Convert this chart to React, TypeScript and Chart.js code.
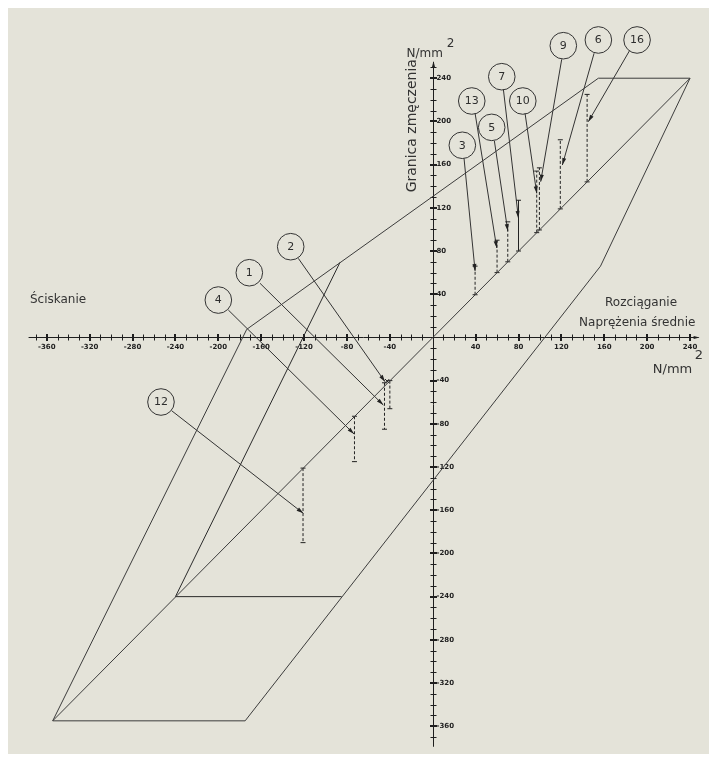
import React, { useEffect, useRef } from "react";
import { Chart, registerables } from "chart.js";

Chart.register(...registerables);

// ---- Diagram outline (σm, σ) in N/mm² ----
const outerX = [-354.5, -173.5, 154.5, 240, 156.5, -175, -354.5];
const outerY = [-355, 7.5, 240, 240, 66, -355, -355];
const diagonalX = [-354.5, 240];
const diagonalY = [-355, 240];
const innerX = [-86.5, -240, -85];
const innerY = [69.5, -240, -240];

// ---- Numbered callouts ----
const labels = ["2", "1", "4", "12", "3", "13", "5", "7", "10", "9", "6", "16"];
const bubbleX = [-132.5, -171.1, -200, -253.5, 27.6, 36.4, 55.0, 64.4, 84.0, 121.8, 154.5, 190.6];
const bubbleY = [84.0, 59.9, 34.6, -59.8, 177.9, 218.9, 194.5, 241.4, 218.9, 270.1, 275.4, 275.4];
const leaderStartX = [-125.4, -161.1, -190.7, -243.5, 29.2, 39.5, 57.5, 65.9, 86.1, 120.3, 150.5, 183.4];
const leaderStartY = [73.2, 50.1, 25.4, -67.9, 165.8, 207.5, 181.9, 229.7, 207.5, 257.5, 263.1, 265.2];
const tipX = [-44.5, -46.1, -73.4, -120.7, 39.5, 59.7, 70.0, 79.9, 97.0, 100.7, 120.9, 145.1];
const tipY = [-41.0, -62.6, -89.4, -162.9, 61.5, 82.8, 98.5, 110.6, 133.4, 144.2, 159.6, 199.7];

// ---- Stress ranges (vertical bars) ----
const barX = [-40, -45, -73, -121, 39.5, 60, 70, 80, 97, 99.5, 119, 144];
const barFrom = [-40, -42, -73, -121, 39.5, 60, 70, 80, 97, 99.5, 119, 144];
const barTo = [-66, -85, -115, -190, 66, 90, 107, 127, 154, 157, 183, 225];
const barSolid = [false, false, false, false, false, false, false, true, false, false, false, false];
const crossX = [-42.5];
const crossY = [-40.5];

// ---- Axes ----
const xTickLabels = [-360, -320, -280, -240, -200, -160, -120, -80, -40, 40, 80, 120, 160, 200, 240];
const yTickLabels = [240, 200, 160, 120, 80, 40, -40, -80, -120, -160, -200, -240, -280, -320, -360];
const xTickFirst = -370;
const xTickLast = 240;
const yTickFirst = -370;
const yTickLast = 250;
const tickStep = 10;
const xAxisFrom = -377;
const xAxisTo = 248;
const yAxisFrom = -379;
const yAxisTo = 255;

const BG = "#e4e3d9";
const LINE = "#3c3c3c";
const INK = "#2e2e2e";
const FONT = "'DejaVu Sans', sans-serif";

export default function App() {
  const ref = useRef<HTMLCanvasElement>(null);

  useEffect(() => {
    const canvas = ref.current;
    if (!canvas) return;

    const seg = (xs: number[], ys: number[], extra: any = {}) => ({
      type: "line" as const,
      data: xs.map((x, i) => ({ x, y: ys[i] })),
      borderColor: LINE,
      borderWidth: 1,
      pointRadius: 0,
      fill: false,
      tension: 0,
      showLine: true,
      ...extra,
    });

    const datasets: any[] = [];
    datasets.push(seg(outerX, outerY));
    datasets.push(seg(diagonalX, diagonalY));
    datasets.push(seg(innerX, innerY, { borderColor: "#2a2a2a" }));
    labels.forEach((_, i) => {
      datasets.push(
        seg([barX[i], barX[i]], [barFrom[i], barTo[i]], {
          borderColor: "#222",
          borderDash: barSolid[i] ? [] : [3, 2],
          pointRadius: 2.5,
          pointStyle: "line",
          pointBorderColor: "#222",
          pointBorderWidth: 1,
        })
      );
      datasets.push(
        seg([leaderStartX[i], tipX[i]], [leaderStartY[i], tipY[i]], { borderColor: "#333" })
      );
    });
    datasets.push({
      type: "scatter",
      data: crossX.map((x, i) => ({ x, y: crossY[i] })),
      pointRadius: 3,
      pointStyle: "crossRot",
      pointBorderColor: "#222",
      pointBorderWidth: 1,
      showLine: false,
    });
    datasets.push({
      type: "scatter",
      data: bubbleX.map((x, i) => ({ x, y: bubbleY[i] })),
      pointRadius: 13.3,
      pointBackgroundColor: "rgba(0,0,0,0)",
      pointBorderColor: "#333",
      pointBorderWidth: 1,
      showLine: false,
    });

    const px = (v: number) => Math.round(v) + 0.5;

    const axesPlugin = {
      id: "crossAxes",
      beforeDatasetsDraw(chart: any) {
        const { ctx } = chart;
        const sx = chart.scales.x;
        const sy = chart.scales.y;
        const x0 = px(sx.getPixelForValue(0));
        const y0 = px(sy.getPixelForValue(0));
        ctx.save();
        ctx.strokeStyle = "#1e1e1e";
        ctx.fillStyle = "#1e1e1e";
        ctx.lineWidth = 1;
        ctx.beginPath();
        ctx.moveTo(sx.getPixelForValue(xAxisFrom), y0);
        ctx.lineTo(sx.getPixelForValue(xAxisTo), y0);
        ctx.moveTo(x0, sy.getPixelForValue(yAxisFrom));
        ctx.lineTo(x0, sy.getPixelForValue(yAxisTo));
        ctx.stroke();
        const xe = sx.getPixelForValue(xAxisTo);
        ctx.beginPath();
        ctx.moveTo(xe + 1, y0);
        ctx.lineTo(xe - 5, y0 - 1.5);
        ctx.lineTo(xe - 5, y0 + 1.5);
        ctx.closePath();
        ctx.fill();
        const ye = sy.getPixelForValue(yAxisTo);
        ctx.beginPath();
        ctx.moveTo(x0, ye - 1);
        ctx.lineTo(x0 - 1.5, ye + 5);
        ctx.lineTo(x0 + 1.5, ye + 5);
        ctx.closePath();
        ctx.fill();
        for (let v = xTickFirst; v <= xTickLast; v += tickStep) {
          if (v === 0) continue;
          const major = v % 40 === 0;
          const p = major ? Math.round(sx.getPixelForValue(v)) : px(sx.getPixelForValue(v));
          ctx.lineWidth = major ? 2 : 1;
          const h = major ? 3.5 : 3;
          ctx.beginPath();
          ctx.moveTo(p, y0 - h);
          ctx.lineTo(p, y0 + h);
          ctx.stroke();
        }
        for (let v = yTickFirst; v <= yTickLast; v += tickStep) {
          if (v === 0) continue;
          const major = v % 40 === 0;
          const p = major ? Math.round(sy.getPixelForValue(v)) : px(sy.getPixelForValue(v));
          ctx.lineWidth = major ? 2 : 1;
          const h = major ? 3.5 : 3;
          ctx.beginPath();
          ctx.moveTo(x0 - h, p);
          ctx.lineTo(x0 + h, p);
          ctx.stroke();
        }
        ctx.font = `bold 7px ${FONT}`;
        ctx.fillStyle = "#222";
        ctx.textAlign = "center";
        ctx.textBaseline = "middle";
        xTickLabels.forEach((v) => {
          ctx.fillText(String(v), sx.getPixelForValue(v), y0 + 10);
        });
        ctx.textAlign = "left";
        yTickLabels.forEach((v) => {
          ctx.fillText(String(v), x0 + 3, sy.getPixelForValue(v));
        });
        ctx.restore();
      },
    };

    const annotPlugin = {
      id: "annotations",
      afterDatasetsDraw(chart: any) {
        const { ctx } = chart;
        const sx = chart.scales.x;
        const sy = chart.scales.y;
        ctx.save();
        ctx.fillStyle = "#222";
        labels.forEach((_, i) => {
          const x1 = sx.getPixelForValue(leaderStartX[i]);
          const y1 = sy.getPixelForValue(leaderStartY[i]);
          const x2 = sx.getPixelForValue(tipX[i]);
          const y2 = sy.getPixelForValue(tipY[i]);
          const a = Math.atan2(y2 - y1, x2 - x1);
          const L = 7;
          const W = 2;
          ctx.beginPath();
          ctx.moveTo(x2, y2);
          ctx.lineTo(x2 - L * Math.cos(a) + W * Math.sin(a), y2 - L * Math.sin(a) - W * Math.cos(a));
          ctx.lineTo(x2 - L * Math.cos(a) - W * Math.sin(a), y2 - L * Math.sin(a) + W * Math.cos(a));
          ctx.closePath();
          ctx.fill();
        });
        ctx.fillStyle = INK;
        ctx.font = `11px ${FONT}`;
        ctx.textAlign = "center";
        ctx.textBaseline = "middle";
        labels.forEach((t, i) => {
          ctx.fillText(t, sx.getPixelForValue(bubbleX[i]), sy.getPixelForValue(bubbleY[i]) + 0.5);
        });
        ctx.fillStyle = "#333";
        ctx.font = `12px ${FONT}`;
        ctx.textAlign = "left";
        ctx.fillText("Ściskanie", sx.getPixelForValue(-375.7), sy.getPixelForValue(34.6));
        ctx.fillText("Rozciąganie", sx.getPixelForValue(160.7), sy.getPixelForValue(31.9));
        ctx.textAlign = "right";
        ctx.fillText("Naprężenia średnie", sx.getPixelForValue(245), sy.getPixelForValue(13.8));
        ctx.textAlign = "left";
        ctx.font = `13px ${FONT}`;
        ctx.fillText("N/mm", sx.getPixelForValue(205.3), sy.getPixelForValue(-30.2));
        ctx.fillText("2", sx.getPixelForValue(244.5), sy.getPixelForValue(-17.2));
        ctx.font = `12px ${FONT}`;
        ctx.fillText("N/mm", sx.getPixelForValue(-24.5), sy.getPixelForValue(262.4));
        ctx.fillText("2", sx.getPixelForValue(13.1), sy.getPixelForValue(272));
        ctx.save();
        ctx.translate(sx.getPixelForValue(-18.8), sy.getPixelForValue(196));
        ctx.rotate(-Math.PI / 2);
        ctx.textAlign = "center";
        ctx.font = `14px ${FONT}`;
        ctx.fillText("Granica zmęczenia", 0, 0);
        ctx.restore();
        ctx.restore();
      },
    };

    const chart = new Chart(canvas, {
      type: "scatter",
      data: { datasets },
      options: {
        animation: false,
        responsive: false,
        events: [],
        layout: { padding: 0, autoPadding: false },
        plugins: { legend: { display: false }, tooltip: { enabled: false } },
        scales: {
          x: { type: "linear", min: -396.2, max: 257.7, display: false },
          y: { type: "linear", min: -385.7, max: 305.0, display: false },
        },
      },
      plugins: [axesPlugin, annotPlugin],
    } as any);

    return () => chart.destroy();
  }, []);

  return (
    <div style={{ width: 701, height: 746, background: BG }}>
      <canvas ref={ref} width={701} height={746} style={{ display: "block" }} />
    </div>
  );
}
